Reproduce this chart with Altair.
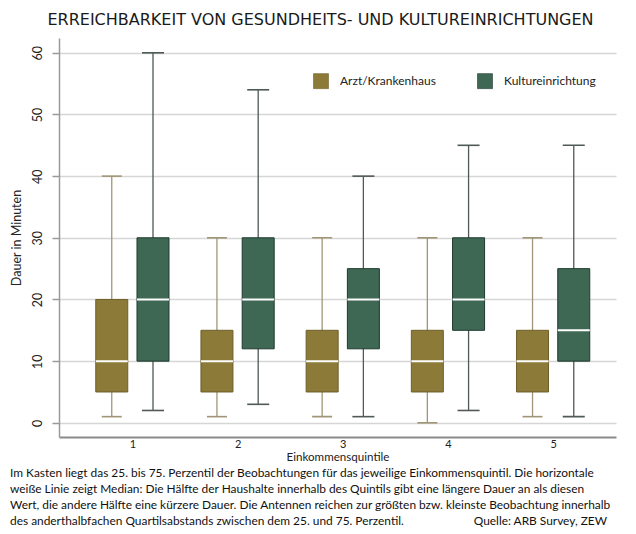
import altair as alt
import pandas as pd

# ---------------- data ----------------
quintiles = [1, 2, 3, 4, 5]
groups = ["Arzt/Krankenhaus", "Kultureinrichtung"]

arzt_min = [1, 1, 1, 0, 1]
arzt_q1 = [5, 5, 5, 5, 5]
arzt_med = [10, 10, 10, 10, 10]
arzt_q3 = [20, 15, 15, 15, 15]
arzt_max = [40, 30, 30, 30, 30]

kult_min = [2, 3, 1, 2, 1]
kult_q1 = [10, 12, 12, 15, 10]
kult_med = [20, 20, 20, 20, 15]
kult_q3 = [30, 30, 25, 30, 25]
kult_max = [60, 54, 40, 45, 45]

y_ticks = [0, 10, 20, 30, 40, 50, 60]

title_text = "ERREICHBARKEIT VON GESUNDHEITS- UND KULTUREINRICHTUNGEN"
caption_lines = [
    "Im Kasten liegt das 25. bis 75. Perzentil der Beobachtungen für das jeweilige Einkommensquintil. Die horizontale",
    "weiße Linie zeigt Median: Die Hälfte der Haushalte innerhalb des Quintils gibt eine längere Dauer an als diesen",
    "Wert, die andere Hälfte eine kürzere Dauer. Die Antennen reichen zur größten bzw. kleinste Beobachtung innerhalb",
    "des anderthalbfachen Quartilsabstands zwischen dem 25. und 75. Perzentil.",
]
source_text = "Quelle: ARB Survey, ZEW"

# ---------------- table ----------------
rows = []
for i, q in enumerate(quintiles):
    rows.append(dict(quintile=q, group=groups[0], lo=arzt_min[i], q1=arzt_q1[i],
                     med=arzt_med[i], q3=arzt_q3[i], hi=arzt_max[i]))
    rows.append(dict(quintile=q, group=groups[1], lo=kult_min[i], q1=kult_q1[i],
                     med=kult_med[i], q3=kult_q3[i], hi=kult_max[i]))
df = pd.DataFrame(rows)

# ---------------- style ----------------
FONT = "Lato"
C_ARZT = "#8c7a38"
C_KULT = "#3e6854"
S_ARZT = "#6e5f2a"
S_KULT = "#1f3a2d"
W_ARZT = "#a09576"
W_KULT = "#4f5a54"

xscale = alt.Scale(domain=[0.35, 5.55], nice=False, zero=False)
yscale = alt.Scale(domain=[-2.3, 62.4], nice=False, zero=False)

x_axis = alt.Axis(values=quintiles, format="d", grid=False, ticks=False,
                  domainColor="#8a8a8a", domainWidth=2,
                  labelFont=FONT, labelFontSize=11, labelColor="#222", labelPadding=1,
                  title="Einkommensquintile", titleFont=FONT, titleFontSize=11.6,
                  titleFontWeight="normal", titleColor="#222", titlePadding=2)
y_axis = alt.Axis(values=y_ticks, grid=True, gridColor="#d6d6d6", gridWidth=1.5,
                  domainColor="#9a9a9a", domainWidth=1.5,
                  tickColor="#9a9a9a", tickSize=7, tickWidth=1.5,
                  labelAngle=270, labelAlign="center", labelBaseline="bottom",
                  labelFont=FONT, labelFontSize=12.5, labelColor="#222",
                  labelPadding=8,
                  title="Dauer in Minuten", titleFont=FONT, titleFontSize=12.5,
                  titleFontWeight="normal", titleColor="#222", titlePadding=8)

base = alt.Chart(df).transform_calculate(
    xpos="datum.quintile + (datum.group == 'Arzt/Krankenhaus' ? -0.196 : 0.196)"
)


def Xp():
    return alt.X("xpos:Q", scale=xscale, axis=x_axis, title="Einkommensquintile")


def Yp(field):
    return alt.Y(field, scale=yscale, axis=y_axis, title="Dauer in Minuten")


whiskers = []
caps = []
for g, wc, cw in [(groups[0], W_ARZT, 20), (groups[1], W_KULT, 22)]:
    sub = base.transform_filter(alt.datum.group == g)
    whiskers.append(
        sub.mark_rule(color=wc, strokeWidth=1.3).encode(
            x=Xp(), y=Yp("lo:Q"), y2="hi:Q")
    )
    caps.append(
        sub.transform_fold(["lo", "hi"], as_=["k", "v"])
        .mark_tick(orient="horizontal", size=cw, thickness=1.6, color=wc, opacity=1)
        .encode(x=Xp(), y=Yp("v:Q"))
    )

boxes = base.mark_bar(size=32, strokeWidth=1, opacity=1).encode(
    x=Xp(),
    y=Yp("q1:Q"),
    y2="q3:Q",
    fill=alt.Fill("group:N", scale=alt.Scale(domain=groups, range=[C_ARZT, C_KULT]),
                  legend=alt.Legend(title=None, orient="none", legendX=254, legendY=35,
                                    direction="horizontal", symbolType="square",
                                    symbolSize=225, symbolStrokeColor="#333",
                                    symbolStrokeWidth=0.6, symbolOpacity=1,
                                    labelFont=FONT, labelFontSize=12, labelColor="#222",
                                    labelOffset=11, columnPadding=40, padding=0)),
    stroke=alt.Stroke("group:N", scale=alt.Scale(domain=groups, range=[S_ARZT, S_KULT]),
                      legend=None),
)

medians = base.mark_tick(orient="horizontal", size=32, thickness=2, color="white",
                         opacity=1).encode(x=Xp(), y=Yp("med:Q"))

text_layers = []
line_y = [435, 451, 467, 483]
for ln, yy in zip(caption_lines, line_y):
    text_layers.append(
        alt.Chart(pd.DataFrame({"t": [ln]})).mark_text(
            align="left", baseline="middle", font=FONT, fontSize=11.9, color="#111"
        ).encode(text="t:N", x=alt.value(-49), y=alt.value(yy))
    )
text_layers.append(
    alt.Chart(pd.DataFrame({"t": [source_text]})).mark_text(
        align="right", baseline="middle", font=FONT, fontSize=11.9, color="#111"
    ).encode(text="t:N", x=alt.value(548), y=alt.value(483))
)

chart = alt.layer(*whiskers, *caps, boxes, medians, *text_layers).properties(
    width=557, height=399,
    title=alt.TitleParams(title_text, font="DejaVu Sans", fontSize=16, fontWeight="normal",
                          color="#1a1a1a", anchor="middle", frame="group", dx=-17, offset=10),
    autosize=alt.AutoSizeParams(type="none"),
    padding={"left": 51, "top": 30, "right": 10, "bottom": 92},
).configure(background="white").configure_view(stroke=None)

chart.save("out.html", embed_options={"renderer": "svg", "actions": False})
